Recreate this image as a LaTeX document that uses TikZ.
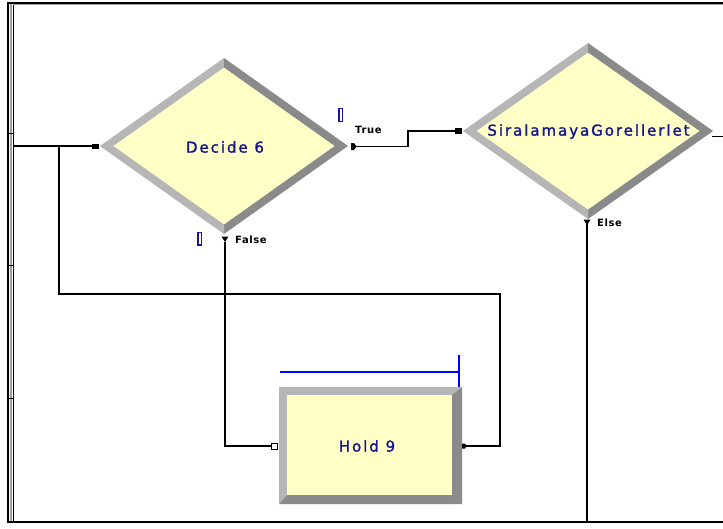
\documentclass[tikz,border=0pt]{standalone}
\usepackage{fontspec}
\setmainfont{DejaVu Sans}
\newfontfamily\modfont{DejaVu Sans}[LetterSpace=13, FakeBold=1.6]
\newfontfamily\portfont{DejaVu Sans Bold}[LetterSpace=6]
\definecolor{arenayel}{HTML}{FFFFC6}
\definecolor{modtext}{HTML}{16168E}
\definecolor{bevlight}{HTML}{B6B6B6}
\definecolor{bevdark}{HTML}{8A8A8A}
\definecolor{framegray}{HTML}{A0A0A0}
\definecolor{markblue}{HTML}{1414A0}
\definecolor{resblue}{HTML}{0000FF}
\newcommand{\bevdiamond}[4]{%
  \pgfmathsetmacro\bdia{#3*0.89}%
  \pgfmathsetmacro\bdib{#4*0.89}%
  \fill[bevlight] ({#1-#3},{#2}) -- ({#1},{#2-#4}) -- ({#1},{#2-\bdib}) -- ({#1-\bdia},{#2}) -- cycle;
  \fill[bevdark] ({#1},{#2-#4}) -- ({#1+#3},{#2}) -- ({#1+\bdia},{#2}) -- ({#1},{#2-\bdib}) -- cycle;
  \fill[bevdark] ({#1+#3},{#2}) -- ({#1},{#2+#4}) -- ({#1},{#2+\bdib}) -- ({#1+\bdia},{#2}) -- cycle;
  \fill[bevlight] ({#1},{#2+#4}) -- ({#1-#3},{#2}) -- ({#1-\bdia},{#2}) -- ({#1},{#2+\bdib}) -- cycle;
  \fill[arenayel] ({#1-\bdia},{#2}) -- ({#1},{#2-\bdib}) -- ({#1+\bdia},{#2}) -- ({#1},{#2+\bdib}) -- cycle;
}
\tikzset{
  modlabel/.style={font=\modfont\fontsize{15}{18}\selectfont, text=modtext, inner sep=0pt},
  portlabel/.style={font=\portfont\fontsize{10}{12}\selectfont, text=black, inner sep=0pt},
  conn/.style={draw=black, line width=1.2pt},
  markbox/.style={draw=markblue, line width=1.2pt},
}
\begin{document}
\begin{tikzpicture}[x=1pt,y=-1pt]
\useasboundingbox (0,0) rectangle (723,528);
\fill[white] (0,0) rectangle (723,528);
% frame
\draw[framegray, line width=2pt] (11,3) -- (11,522);
\draw[black, line width=1pt] (13.2,3) -- (13.2,522);
\draw[black, line width=2pt] (8,2) -- (8,523);
\draw[black, line width=2.2pt] (7,3) -- (723,3);
\draw[framegray, line width=0.8pt] (13,4.8) -- (723,4.8);
\draw[black, line width=2.2pt] (7,522) -- (723,522);
\foreach \ty in {133,265,398} \draw[black, line width=1pt] (9,\ty) -- (13,\ty);

% Decide 6
\bevdiamond{224}{146}{124}{88}
\node[modlabel] (dec) at (225,147) {Decide 6};
% SiralamayaGorellerlet
\bevdiamond{588}{131}{125}{88}
\node[modlabel] (sir) at (588.5,131.5) {SiralamayaGorellerlet};
% Hold 9
\fill[bevlight] (279,387) -- (462,387) -- (452,395) -- (287,395) -- cycle;
\fill[bevlight] (279,387) -- (287,395) -- (287,495) -- (279,504) -- cycle;
\fill[bevdark] (462,387) -- (462,504) -- (452,495) -- (452,395) -- cycle;
\fill[bevdark] (279,504) -- (462,504) -- (452,495) -- (287,495) -- cycle;
\fill[arenayel] (287,395) rectangle (452,495);
\node[modlabel] (hold) at (367,446) {Hold 9};

% port coordinates
\coordinate (frameIn) at (13,146);
\coordinate (branch) at (59,146);
\coordinate (decIn) at (92,146);
\coordinate (decTrue) at (355,146.5);
\coordinate (decFalse) at (225,242);
\coordinate (sirIn) at (455,131);
\coordinate (sirOut) at (712,136.5);
\coordinate (sirOutEnd) at (723,136.5);
\coordinate (sirElse) at (587,224);
\coordinate (sirElseEnd) at (587,522);
\coordinate (holdIn) at (271,446);
\coordinate (holdOut) at (466,446);
\coordinate (trueJog) at (408,146.5);
\coordinate (loopR) at (500,294);

% connectors
\draw[conn] (frameIn) -- (decIn);
\draw[conn] (branch) |- (loopR) |- (holdOut);
\draw[conn] (decFalse) |- (holdIn);
\draw[conn] (decTrue) -- (trueJog) |- (sirIn);
\draw[conn] (sirOut) -- (sirOutEnd);
\draw[conn] (sirElse) -- (sirElseEnd);

% port markers
\fill[black] (92,143.5) rectangle (99,148.5);
\fill[black] (455,128) rectangle (462,134);
\fill[black] (351,143) -- (354,143) -- (356.5,146.5) -- (354,150) -- (351,150) -- cycle;
\fill[black] (221.5,236.5) -- (228.5,236.5) -- (225,242) -- cycle;
\fill[black] (583.5,219.5) -- (590.5,219.5) -- (587,225) -- cycle;
\fill[white, draw=black, line width=1pt] (271.5,443) rectangle (277.5,449);
\fill[black] (462,443.5) -- (465,443.5) -- (466.5,446) -- (465,448.5) -- (462,448.5) -- cycle;

% port labels
\node[portlabel, anchor=base west] (tTrue) at (355,133) {True};
\node[portlabel, anchor=west] (tFalse) at (235,240) {False};
\node[portlabel, anchor=west] (tElse) at (597,223) {Else};

% blue markers
\draw[markbox] (198,232.5) rectangle (201.5,245);
\draw[markbox] (339,108.5) rectangle (342.5,121.5);

% resource bar
\draw[resblue, line width=1.3pt] (280,372) -- (459,372);
\draw[resblue, line width=1.3pt] (459,355) -- (459,387);
\end{tikzpicture}
\end{document}
